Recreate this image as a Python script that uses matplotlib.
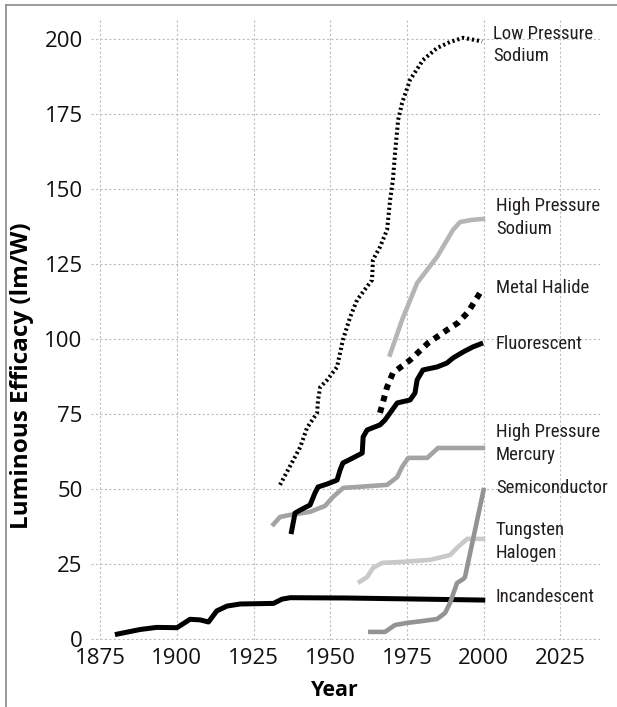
import matplotlib
matplotlib.use("Agg")
import matplotlib.pyplot as plt
from matplotlib.lines import Line2D

# Values: year and luminous efficacy (lm/W)
lps_years = [1933.6, 1940.2, 1942.4, 1945.7, 1946.0, 1946.7, 1949.0, 1952.2, 1954.1, 1956.5,
             1958.7, 1963.6, 1963.9, 1966.2, 1968.5, 1969.5, 1970.4, 1971.1, 1972.1, 1973.4,
             1976.0, 1980.2, 1984.8, 1989.0, 1993.3, 1999.5]
lps_vals = [51.3, 63.9, 70.3, 75.3, 79.6, 83.9, 86.3, 90.6, 99.6, 107.3,
            112.9, 119.6, 126.3, 130.6, 136.3, 146.3, 152.9, 161.9, 172.9, 178.6,
            186.3, 192.9, 196.9, 198.9, 200.3, 199.1]

hps_years = [1969.2, 1973.4, 1978.3, 1984.8, 1990.0, 1992.3, 1996.0, 2000.5]
hps_vals = [94.0, 106.3, 118.6, 127.3, 136.3, 138.9, 139.6, 140.0]

mh_years = [1966.2, 1968.5, 1970.4, 1976.0, 1981.9, 1988.0, 1991.6, 1994.9, 1998.8]
mh_vals = [75.3, 83.9, 88.6, 92.9, 98.6, 102.9, 105.3, 108.9, 115.3]

fl_years = [1937.2, 1938.5, 1940.2, 1943.4, 1945.0, 1946.0, 1949.0, 1952.2, 1953.2, 1954.1,
            1957.4, 1960.4, 1960.7, 1962.0, 1966.2, 1967.8, 1969.5, 1971.8, 1976.0, 1977.6,
            1978.3, 1980.2, 1984.8, 1988.0, 1990.0, 1993.3, 1996.5, 1999.8]
fl_vals = [34.9, 41.9, 42.9, 44.6, 48.6, 50.6, 51.6, 52.9, 56.3, 58.6,
           60.3, 61.9, 67.3, 69.6, 71.3, 72.9, 75.3, 78.6, 79.6, 81.9,
           86.3, 89.6, 90.6, 91.9, 93.6, 95.6, 97.3, 98.6]

hpm_years = [1931.0, 1933.6, 1936.9, 1943.4, 1948.3, 1950.9, 1954.2, 1958.7, 1968.5, 1971.8,
             1973.4, 1975.4, 1981.6, 1985.1, 1990.0, 2000.5]
hpm_vals = [37.6, 40.6, 41.3, 42.3, 44.3, 47.3, 50.3, 50.6, 51.3, 53.9,
            57.3, 60.3, 60.3, 63.6, 63.6, 63.6]

semi_years = [1962.3, 1967.8, 1971.1, 1975.0, 1979.9, 1984.8, 1987.4, 1989.0, 1991.3, 1993.3,
              1993.9, 2000.1]
semi_vals = [2.3, 2.3, 4.6, 5.3, 5.9, 6.6, 8.6, 11.9, 18.6, 19.9,
             20.6, 50.3]

tung_years = [1959.0, 1962.0, 1963.9, 1966.9, 1972.8, 1982.5, 1989.0, 1991.6, 1994.6, 2000.5]
tung_vals = [18.6, 20.6, 23.6, 25.3, 25.6, 26.3, 27.9, 30.6, 33.3, 33.3]

inc_years = [1879.8, 1888.0, 1893.4, 1900.0, 1904.3, 1907.6, 1910.3, 1913.0, 1916.3, 1920.6,
             1931.5, 1934.2, 1936.9, 1955.0, 1975.0, 2000.5]
inc_vals = [1.4, 3.1, 3.8, 3.7, 6.5, 6.3, 5.6, 9.3, 10.9, 11.6,
            11.8, 13.2, 13.7, 13.6, 13.3, 12.9]

x_ticks = [1875, 1900, 1925, 1950, 1975, 2000, 2025]
y_ticks = [0, 25, 50, 75, 100, 125, 150, 175, 200]

tick_font = ["Open Sans", "DejaVu Sans"]
label_font = ["Roboto Condensed", "PT Sans Narrow", "DejaVu Sans"]
bold_font = ["Open Sans", "DejaVu Sans"]

W, H = 617, 707
fig = plt.figure(figsize=(W / 100, H / 100), dpi=100)
ax = fig.add_axes([91 / W, 1 - 640 / H, (600 - 91) / W, (640 - 18) / H])

# series, bottom to top
ax.plot(hpm_years, hpm_vals, color="#a3a3a3", lw=3.3, solid_capstyle="butt")
ax.plot(tung_years, tung_vals, color="#c9c9c9", lw=3.3, solid_capstyle="butt")
ax.plot(inc_years, inc_vals, color="black", lw=3.6, solid_capstyle="butt")
ax.plot(semi_years, semi_vals, color="#939393", lw=3.3, solid_capstyle="butt")
ax.plot(hps_years, hps_vals, color="#b5b5b5", lw=3.3, solid_capstyle="butt")
ax.plot(fl_years, fl_vals, color="black", lw=3.6, solid_capstyle="butt")
ax.plot(mh_years, mh_vals, color="black", lw=4.3, dashes=(1.0, 1.0), dash_capstyle="butt")
ax.plot(lps_years, lps_vals, color="black", lw=2.9, dashes=(0.55, 0.7), dash_capstyle="butt")

# line labels at the right end of each series
labels = [
    ("Low Pressure\nSodium", lps_vals[-1] - 1.2, 2003.0),
    ("High Pressure\nSodium", hps_vals[-1] + 0.4, 2004.0),
    ("Metal Halide", mh_vals[-1] + 1.5, 2004.0),
    ("Fluorescent", fl_vals[-1] - 0.3, 2004.0),
    ("High Pressure\nMercury", hpm_vals[-1] + 1.5, 2004.0),
    ("Semiconductor", semi_vals[-1] - 0.2, 2004.0),
    ("Tungsten\nHalogen", tung_vals[-1] - 0.9, 2004.0),
    ("Incandescent", inc_vals[-1] + 0.9, 2004.0),
]
for txt, yv, xv in labels:
    ax.text(xv, yv, txt, ha="left", va="center", fontsize=13.5, color="#231f20",
            family=label_font, fontweight="normal", linespacing=1.3)

ax.set_xlim(1872.0, 2037.9)
ax.set_ylim(-0.4, 206.9)
ax.set_xticks(x_ticks)
ax.set_yticks(y_ticks)
ax.tick_params(length=0, labelsize=16, pad=6, colors="#111111")
for lab in ax.get_xticklabels() + ax.get_yticklabels():
    lab.set_family(tick_font)
ax.grid(True, color="#bdbdbd", linestyle=(0, (2, 2)), linewidth=0.8)
ax.set_axisbelow(True)
for s in ax.spines.values():
    s.set_visible(False)

ax.set_xlabel("Year", fontsize=15.5, fontweight="bold", family=bold_font, va="center")
ax.xaxis.set_label_coords((335 - 91) / 509, (640 - 690) / 622)
ax.set_ylabel("Luminous Efficacy (lm/W)", fontsize=17.5, fontweight="bold",
              family=bold_font, va="center")
ax.yaxis.set_label_coords((22 - 91) / 509, (640 - 376) / 622)

# thin frame on top and left edge
fig.add_artist(Line2D([6 / W, 1], [1 - 5 / H, 1 - 5 / H], transform=fig.transFigure,
                      color="#8a8a8a", lw=1.2))
fig.add_artist(Line2D([6 / W, 6 / W], [0, 1 - 5 / H], transform=fig.transFigure,
                      color="#8a8a8a", lw=1.2))

fig.savefig("out.png", dpi=100)
